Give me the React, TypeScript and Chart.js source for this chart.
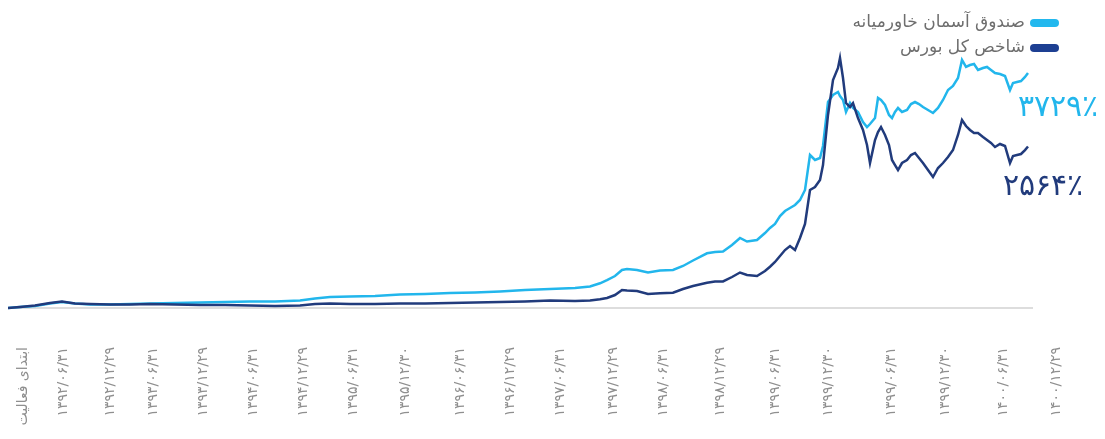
import React, { useEffect, useRef } from 'react';
import { Chart, registerables } from 'chart.js';

Chart.register(...registerables);

// x-axis tick labels and the observation number each one belongs to
const tickLabels = [
  'ابتدای فعالیت',
  '۱۳۹۲/۰۶/۳۱', '۱۳۹۲/۱۲/۲۹', '۱۳۹۳/۰۶/۳۱', '۱۳۹۳/۱۲/۲۹',
  '۱۳۹۴/۰۶/۳۱', '۱۳۹۴/۱۲/۲۹', '۱۳۹۵/۰۶/۳۱', '۱۳۹۵/۱۲/۳۰',
  '۱۳۹۶/۰۶/۳۱', '۱۳۹۶/۱۲/۲۹', '۱۳۹۷/۰۶/۳۱', '۱۳۹۷/۱۲/۲۹',
  '۱۳۹۸/۰۶/۳۱', '۱۳۹۸/۱۲/۲۹', '۱۳۹۹/۰۶/۳۱', '۱۳۹۹/۱۲/۳۰',
  '۱۳۹۹/۰۶/۳۱', '۱۳۹۹/۱۲/۳۰', '۱۴۰۰/۰۶/۳۱', '۱۴۰۰/۱۲/۲۹',
];
const tickObs = [
  15, 55, 102, 145, 195, 245, 295, 345, 397, 452, 502,
  552, 605, 655, 712, 767, 820, 883, 937, 995, 1048,
];

const seriesNames = ['صندوق آسمان خاورمیانه', 'شاخص کل بورس'];

// observation number of each sampled point
const xObs = [
  0, 12, 27, 42, 54, 67, 82, 102, 122, 142, 167, 192, 217, 242, 267,
  292, 307, 322, 342, 367, 392, 417, 442, 467, 492, 517, 542, 567, 582,
  592, 599, 607, 614, 619, 629, 640, 652, 665, 675,
  685, 699, 707, 715, 724, 732, 739, 749, 757, 762,
  767, 772, 777, 782, 787, 792, 797, 802, 807, 812,
  815, 820, 825, 830, 832, 835, 838, 842, 845, 850,
  855, 859, 862, 867, 870, 873, 877, 881, 884, 887,
  890, 894, 899, 903, 907, 911, 915, 920, 925, 930,
  935, 940, 945, 950, 954, 958, 962, 966, 970, 975,
  979, 983, 987, 992, 997, 1002, 1005, 1009, 1013, 1017,
  1020,
];

// cumulative return of the fund (%)
const fundPct = [
  0, 16, 32, 71, 95, 71, 56, 56, 63, 71, 79, 87, 95, 103, 103,
  119, 151, 175, 183, 190, 214, 222, 238, 246, 262, 286, 302, 317, 341,
  392, 444, 508, 603, 619, 603, 563, 595, 603, 667,
  754, 868, 889, 897, 1000, 1111, 1055, 1079, 1190, 1270,
  1333, 1460, 1539, 1587, 1635, 1714, 1873, 2428, 2349, 2381,
  2571, 3269, 3380, 3428, 3364, 3301, 3111, 3253, 3174, 3111,
  2952, 2872, 2920, 3015, 3333, 3301, 3222, 3063, 3015, 3111,
  3174, 3111, 3142, 3237, 3269, 3237, 3190, 3142, 3095, 3174,
  3301, 3460, 3523, 3650, 3936, 3825, 3856, 3872, 3777, 3809,
  3825, 3777, 3729, 3714, 3682, 3460, 3571, 3587, 3602, 3666,
  3729,
];

// cumulative return of the TSE overall index (%)
const indexPct = [
  0, 16, 40, 79, 103, 71, 63, 56, 56, 63, 56, 48, 48, 40, 32,
  40, 63, 71, 63, 63, 71, 71, 79, 87, 95, 103, 119, 111, 119,
  138, 159, 206, 286, 278, 270, 222, 233, 243, 302,
  349, 402, 421, 421, 492, 563, 524, 508, 587, 655,
  730, 825, 920, 984, 920, 1111, 1333, 1873, 1920, 2031,
  2269, 3063, 3618, 3809, 3968, 3650, 3253, 3190, 3253, 3015,
  2825, 2587, 2301, 2666, 2793, 2872, 2746, 2587, 2349, 2269,
  2190, 2301, 2349, 2428, 2460, 2381, 2301, 2190, 2079, 2222,
  2301, 2396, 2507, 2746, 2984, 2888, 2825, 2777, 2777, 2714,
  2666, 2619, 2555, 2603, 2571, 2301, 2412, 2428, 2444, 2507,
  2564,
];

const colors = ['#22b6ec', '#213b7c'];
const legendColors = ['#22b8ee', '#1d3f92'];
const FONT = '"DejaVu Sans", sans-serif';

const persianDigits = '۰۱۲۳۴۵۶۷۸۹';
const toPersian = (n: number) =>
  String(Math.round(n)).replace(/[0-9]/g, (d) => persianDigits[Number(d)]);

const overlayPlugin = {
  id: 'overlay',
  beforeDatasetsDraw(chart: any) {
    const { ctx } = chart;
    const xs = chart.scales.x;
    const ys = chart.scales.y;
    const y0 = ys.getPixelForValue(0);
    const xEnd = xs.getPixelForValue(xObs[xObs.length - 1]) + 5;
    ctx.save();
    ctx.strokeStyle = '#dddddd';
    ctx.lineWidth = 2;
    ctx.beginPath();
    ctx.moveTo(xs.getPixelForValue(xObs[0]), y0);
    ctx.lineTo(xEnd, y0);
    ctx.stroke();
    ctx.restore();
  },
  afterDraw(chart: any) {
    const { ctx } = chart;
    ctx.save();
    // legend (right-to-left)
    const swRight = chart.width - 38;
    chart.data.datasets.forEach((ds: any, i: number) => {
      const cy = 15 + i * 25;
      ctx.fillStyle = legendColors[i];
      ctx.beginPath();
      (ctx as any).roundRect(swRight - 29, cy - 4, 29, 8, 4);
      ctx.fill();
      ctx.fillStyle = '#6e6e6e';
      ctx.font = `17px ${FONT}`;
      ctx.textAlign = 'right';
      ctx.textBaseline = 'middle';
      ctx.fillText(ds.label, swRight - 34, cy);
    });
    // end-value labels
    const offsets = [
      { dx: -10, dy: 43 },
      { dx: -25, dy: 49 },
    ];
    chart.data.datasets.forEach((ds: any, i: number) => {
      const meta = chart.getDatasetMeta(i);
      const pt = meta.data[meta.data.length - 1];
      const v = ds.data[ds.data.length - 1].y;
      ctx.fillStyle = colors[i];
      ctx.font = `300 30px ${FONT}`;
      ctx.textAlign = 'left';
      ctx.textBaseline = 'alphabetic';
      ctx.fillText(toPersian(v) + '٪', pt.x + offsets[i].dx, pt.y + offsets[i].dy);
    });
    ctx.restore();
  },
};

export default function App() {
  const ref = useRef<HTMLCanvasElement | null>(null);

  useEffect(() => {
    if (!ref.current) return;
    const chart = new Chart(ref.current, {
      type: 'line',
      data: {
        datasets: [
          {
            label: seriesNames[0],
            data: xObs.map((x, i) => ({ x, y: fundPct[i] })),
            borderColor: colors[0],
            borderWidth: 2.5,
            pointRadius: 0,
            tension: 0,
            order: 2,
          },
          {
            label: seriesNames[1],
            data: xObs.map((x, i) => ({ x, y: indexPct[i] })),
            borderColor: colors[1],
            borderWidth: 2.5,
            pointRadius: 0,
            tension: 0,
            order: 1,
          },
        ],
      },
      options: {
        responsive: true,
        maintainAspectRatio: false,
        animation: false,
        layout: { padding: 0 },
        plugins: {
          legend: { display: false },
          tooltip: { enabled: false },
        },
        scales: {
          x: {
            type: 'linear',
            min: 0,
            max: 1089,
            grid: { display: false, drawTicks: false },
            border: { display: false },
            afterBuildTicks: (scale: any) => {
              scale.ticks = tickObs.map((value) => ({ value }));
            },
            afterFit: (scale: any) => {
              scale.height = 109;
              scale.paddingLeft = 0;
              scale.paddingRight = 0;
            },
            ticks: {
              autoSkip: false,
              minRotation: 90,
              maxRotation: 90,
              padding: 17,
              color: '#8f8f8f',
              font: { family: FONT, size: 14 },
              callback: (v: any) => {
                const i = tickObs.indexOf(Number(v));
                return i >= 0 ? tickLabels[i] : '';
              },
            },
          },
          y: {
            display: false,
            min: -349,
            max: 4761,
          },
        },
      },
      plugins: [overlayPlugin],
    });
    return () => chart.destroy();
  }, []);

  return (
    <div style={{ position: 'relative', width: '100%', height: 431 }}>
      <canvas ref={ref} />
    </div>
  );
}
